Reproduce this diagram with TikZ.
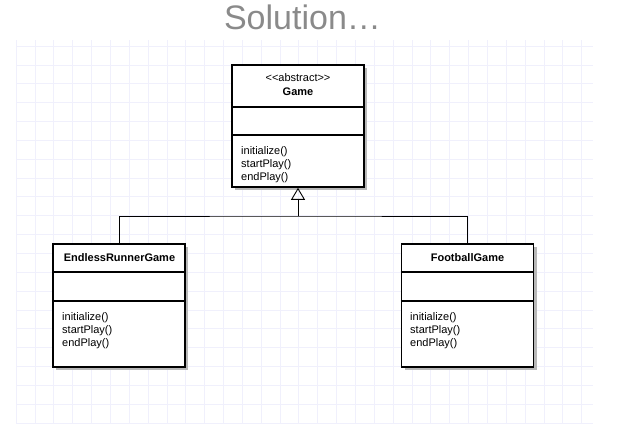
\documentclass[tikz,border=0pt]{standalone}
\usepackage{fontspec}
\setmainfont{Liberation Sans}
\usepackage{tikz}
\usetikzlibrary{arrows.meta, shadows}

\definecolor{gridblue}{RGB}{240,240,252}
\definecolor{titlegray}{RGB}{138,138,138}

\begin{document}
\begin{tikzpicture}[x=1pt, y=-1pt,
  classbox/.style={draw, line width=1.6pt, fill=white, inner sep=0pt,
    minimum width=132pt, minimum height=123pt,
    drop shadow={shadow xshift=3pt, shadow yshift=-3pt, opacity=1, fill=black!28}},
  divider/.style={line width=1.1pt},
  txt/.style={font=\fontsize{11}{13}\selectfont, inner sep=0pt},
  bold/.style={txt, font=\fontsize{11}{13}\selectfont\bfseries},
  ops/.style={txt, align=left, anchor=north west},
  link/.style={line width=0.9pt},
  gridline/.style={gridblue, line width=0.6pt}]
  \useasboundingbox (0,0) rectangle (643,430);
  % grid
  \foreach \i in {0,...,30}
    \draw[gridline] (16+18.85*\i,40) -- (16+18.85*\i,423);
  \foreach \j in {0,...,20}
    \draw[gridline] (16,46+18.85*\j) -- (593,46+18.85*\j);
  % title
  \node[anchor=base, inner sep=0pt, text=titlegray, font=\fontsize{34}{36}\selectfont] (title) at (302.5,30) {Solution…};
  % Game
  \node[classbox, minimum height=122pt] (game) at (298,126) {};
  \draw[divider] (game.west |- 0,107) -- (game.east |- 0,107);
  \draw[divider] (game.west |- 0,135) -- (game.east |- 0,135);
  \node[txt] (gametag) at (298,78) {<\kern0pt<abstract>\kern0pt>};
  \node[bold] (gamename) at (298,92) {Game};
  \node[ops] (gameops) at (241,146) {initialize()\\startPlay()\\endPlay()};
  % EndlessRunnerGame
  \node[classbox] (runner) at (119,305.5) {};
  \draw[divider] (runner.west |- 0,272) -- (runner.east |- 0,272);
  \draw[divider] (runner.west |- 0,301) -- (runner.east |- 0,301);
  \node[bold] (runnername) at (119.5,258) {EndlessRunnerGame};
  \node[ops] (runnerops) at (62,312) {initialize()\\startPlay()\\endPlay()};
  % FootballGame
  \node[classbox] (football) at (467.5,305.5) {};
  \draw[divider] (football.west |- 0,272) -- (football.east |- 0,272);
  \draw[divider] (football.west |- 0,301) -- (football.east |- 0,301);
  \node[bold] (footballname) at (467.5,258) {FootballGame};
  \node[ops] (footballops) at (410,312) {initialize()\\startPlay()\\endPlay()};
  % inheritance
  \coordinate (fork) at (298,216);
  \draw[link] (runner.north) |- (fork) -| (football.north);
  \draw[link, -{Triangle[open, length=12pt, width=14pt]}] (fork) -- (game.south);
\end{tikzpicture}
\end{document}
